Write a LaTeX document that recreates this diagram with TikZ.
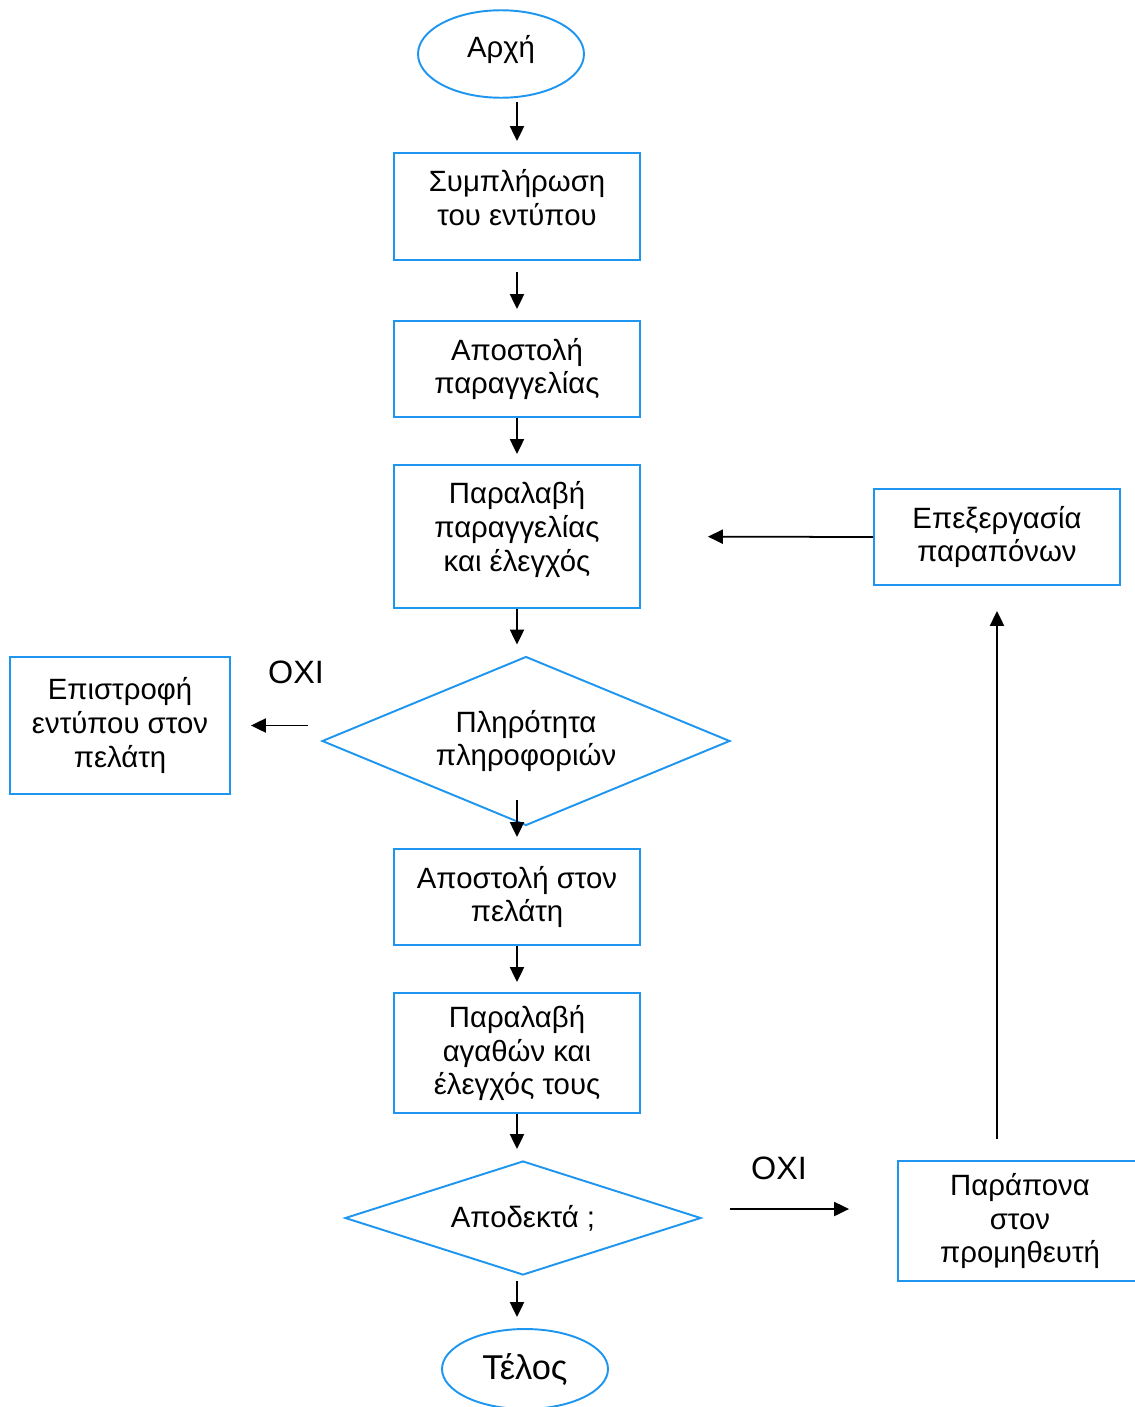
\documentclass[tikz,border=0pt]{standalone}
\usepackage{fontspec}
\setmainfont{Liberation Sans}
\usetikzlibrary{shapes.geometric,arrows.meta}

\definecolor{flowblue}{RGB}{30,150,240}

\begin{document}
\begin{tikzpicture}[x=0.02cm,y=-0.02cm]
		\tikzstyle{block} = [rectangle,draw=flowblue,line width=1.1pt,align=center,minimum width=4.92cm,font=\fontsize{16.7}{19.2}\selectfont]
		\tikzstyle{term} = [ellipse,draw=flowblue,line width=1.1pt,minimum width=3.32cm,minimum height=1.75cm,font=\fontsize{16.7}{19.2}\selectfont]
		\tikzstyle{decision} = [diamond,draw=flowblue,line width=1.1pt,align=center,inner sep=0pt,font=\fontsize{16.7}{19.2}\selectfont]
		\tikzstyle{lbl} = [font=\fontsize{18.4}{21}\selectfont]
		\tikzstyle{arr} = [-{Triangle[length=8.5pt,width=8pt]},line width=1pt]

		\useasboundingbox (0,0) rectangle (1134,1407);

		\node[term] (start) at (501,54) {\raisebox{0pt}[\height][\dimexpr\depth+5.7pt\relax]{Αρχή}};
		\node[block,minimum height=2.14cm] (b1) at (517,206.5) {\raisebox{0pt}[\height][\dimexpr\depth+5.7pt\relax]{\begin{tabular}{@{}c@{}}Συμπλήρωση\\του εντύπου\end{tabular}}};
		\node[block,minimum height=1.92cm] (b2) at (517,369) {Αποστολή\\παραγγελίας};
		\node[block,minimum height=2.86cm] (b3) at (517,536.5) {\raisebox{0pt}[\height][\dimexpr\depth+6.8pt\relax]{\begin{tabular}{@{}c@{}}Παραλαβή\\παραγγελίας\\και έλεγχός\end{tabular}}};
		\node[decision,aspect=2.414,minimum width=8.16cm,minimum height=3.38cm] (d1) at (526,741) {Πληρότητα\\πληροφοριών};
		\node[block,minimum width=4.4cm,minimum height=2.74cm] (ret) at (120,725.5) {Επιστροφή\\εντύπου στον\\πελάτη};
		\node[block,minimum height=1.92cm] (b4) at (517,897) {Αποστολή στον\\πελάτη};
		\node[block,minimum height=2.4cm] (b5) at (517,1053) {Παραλαβή\\αγαθών και\\έλεγχός τους};
		\node[decision,aspect=3.12,minimum width=7.12cm,minimum height=2.28cm] (d2) at (523,1218) {Αποδεκτά ;};
		\node[term,minimum height=1.6cm,font=\fontsize{19.6}{22}\selectfont] (end) at (525,1369) {Τέλος};
		\node[block,minimum height=1.92cm] (proc) at (997,537) {Επεξεργασία\\παραπόνων};
		\node[block,minimum width=4.88cm,minimum height=2.4cm] (comp) at (1020,1221) {Παράπονα\\στον\\προμηθευτή};

		\node[lbl] (no1) at (296,672) {ΟΧΙ};
		\node[lbl] (no2) at (779,1168) {ΟΧΙ};

		\draw[arr,shorten <=0.06cm,shorten >=0.22cm] (start.south -| b1) -- (b1.north);
		\draw[arr,shorten <=0.22cm,shorten >=0.22cm] (b1) -- (b2);
		\draw[arr,shorten >=0.2cm] (b2) -- (b3);
		\draw[arr,shorten >=0.22cm] (b3.south) -- (b3.south |- d1.north);
		\draw[arr,shorten <=1.18cm,shorten >=0.22cm] (d1.center -| b4) -- (b4.north);
		\draw[arr,shorten >=0.2cm] (b4) -- (b5);
		\draw[arr,shorten >=0.22cm] (b5.south) -- (b5.south |- d2.north);
		\draw[arr,shorten <=0.1cm,shorten >=0.22cm] (d2.south -| b5) -- (b5 |- end.north);

		\draw[arr,shorten <=0.26cm,shorten >=0.4cm] (d1.west |- ret.east) -- (ret.east);
		\draw[arr,shorten <=0.56cm,shorten >=0.96cm] ([yshift=0.18cm]d2.east) -- ([yshift=0.18cm]d2.east -| comp.west);
		\draw[arr,shorten <=0.42cm,shorten >=0.5cm] (comp.north -| proc.south) -- (proc.south);
		\draw[arr,shorten >=1.34cm] (proc.west) -- (b3.east);
	\end{tikzpicture}
\end{document}
